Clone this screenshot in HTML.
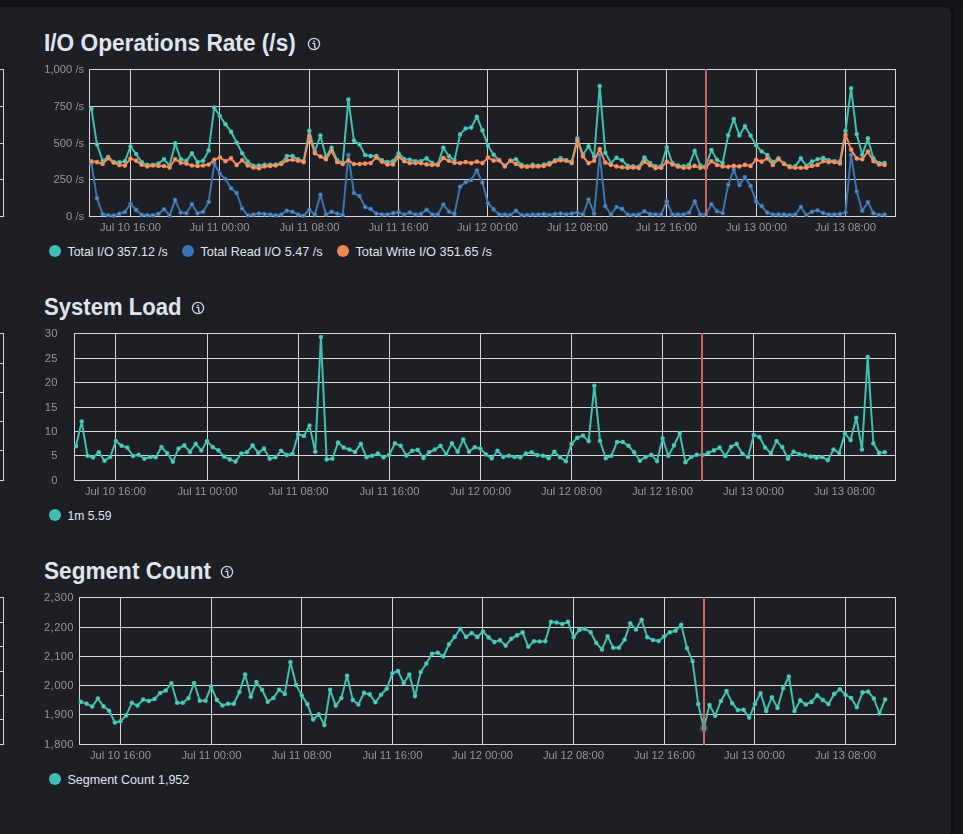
<!DOCTYPE html>
<html><head><meta charset="utf-8"><title>Metrics</title>
<style>
html,body{margin:0;padding:0;}
body{width:963px;height:834px;overflow:hidden;background:#141519;position:relative;font-family:'Liberation Sans', Arial, sans-serif;}
.panel{position:absolute;left:-20px;top:6.5px;width:971px;height:860px;background:#1e1f24;border-radius:6px;box-shadow:2px 0 3px rgba(0,0,0,0.45);}

.topstrip{position:absolute;left:0;top:0;width:963px;height:7px;background:#121317;}
svg{position:absolute;left:0;top:0;}
.gl{will-change:transform;}
.t{font-family:'Liberation Sans', Arial, sans-serif;font-weight:700;font-size:23.2px;fill:#dfe5ef;}
.yl{font-family:'Liberation Sans', Arial, sans-serif;font-size:11.2px;fill:#96979a;text-anchor:end;letter-spacing:0.4px;}
.xl{font-family:'Liberation Sans', Arial, sans-serif;font-size:11.2px;fill:#96979a;text-anchor:middle;}
.lg{font-family:'Liberation Sans', Arial, sans-serif;font-size:12.4px;fill:#dfe5ef;}
</style></head>
<body>
<div class="topstrip"></div>
<div class="panel"></div>
<svg width="963" height="834" viewBox="0 0 963 834">
<g fill="#d6d6d6"><rect x="0" y="69" width="4" height="1"/><rect x="0" y="106" width="4" height="1"/><rect x="0" y="143" width="4" height="1"/><rect x="0" y="179" width="4" height="1"/><rect x="0" y="216" width="4" height="1"/><rect x="3" y="69" width="1" height="148"/></g>
<g fill="#d6d6d6"><rect x="0" y="333" width="4" height="1"/><rect x="0" y="363" width="4" height="1"/><rect x="0" y="392" width="4" height="1"/><rect x="0" y="421" width="4" height="1"/><rect x="0" y="450" width="4" height="1"/><rect x="0" y="480" width="4" height="1"/><rect x="3" y="333" width="1" height="148"/></g>
<g fill="#d6d6d6"><rect x="0" y="597" width="4" height="1"/><rect x="0" y="622" width="4" height="1"/><rect x="0" y="646" width="4" height="1"/><rect x="0" y="671" width="4" height="1"/><rect x="0" y="695" width="4" height="1"/><rect x="0" y="719" width="4" height="1"/><rect x="0" y="744" width="4" height="1"/><rect x="3" y="597" width="1" height="148"/></g>
<text x="44" y="51" class="t" textLength="251.8" lengthAdjust="spacingAndGlyphs">I/O Operations Rate (/s)</text>
<g transform="translate(314,44)"><circle cx="0" cy="0" r="5.6" fill="none" stroke="#d3d7e0" stroke-width="1.25"/><rect x="-0.8" y="-3.4" width="1.5" height="1.3" fill="#d3d7e0"/><path d="M-1.8 -0.6 H0.7 V3.1 Q0.8 4 1.9 4" fill="none" stroke="#d3d7e0" stroke-width="1.3"/></g>
<g fill="#d6d6d6"><rect x="89" y="69" width="807" height="1"/><rect x="89" y="106" width="807" height="1"/><rect x="89" y="143" width="807" height="1"/><rect x="89" y="179" width="807" height="1"/><rect x="89" y="216" width="807" height="1"/><rect x="130" y="69" width="1" height="148"/><rect x="219" y="69" width="1" height="148"/><rect x="309" y="69" width="1" height="148"/><rect x="398" y="69" width="1" height="148"/><rect x="487" y="69" width="1" height="148"/><rect x="577" y="69" width="1" height="148"/><rect x="666" y="69" width="1" height="148"/><rect x="756" y="69" width="1" height="148"/><rect x="845" y="69" width="1" height="148"/><rect x="89" y="69" width="1" height="148"/><rect x="895" y="69" width="1" height="148"/></g>
<polyline points="91.40,108.90 96.98,144.40 102.57,160.80 108.16,157.00 113.74,162.00 119.33,162.40 124.91,161.30 130.50,146.50 136.09,154.00 141.67,162.40 147.26,164.80 152.84,164.80 158.43,163.50 164.02,159.40 169.60,165.50 175.19,143.40 180.77,159.30 186.36,160.80 191.95,153.30 197.53,162.10 203.12,160.80 208.70,150.40 214.29,107.60 219.88,116.00 225.46,124.20 231.05,131.70 236.63,142.50 242.22,153.30 247.80,161.60 253.39,165.90 258.98,165.50 264.56,164.90 270.15,164.90 275.73,164.60 281.32,163.10 286.91,156.10 292.49,156.10 298.08,159.30 303.66,161.20 309.25,130.90 314.84,151.50 320.42,135.60 326.01,157.10 331.59,147.70 337.18,160.30 342.77,162.70 348.35,99.50 353.94,140.60 359.52,144.40 365.11,155.00 370.70,156.10 376.28,156.10 381.87,160.30 387.45,162.10 393.04,161.20 398.62,153.30 404.21,159.00 409.80,159.70 415.38,161.20 420.97,161.20 426.55,158.40 432.14,163.10 437.73,164.60 443.31,147.70 448.90,156.10 454.48,160.30 460.07,134.40 465.66,128.50 471.24,127.60 476.83,116.70 482.41,130.40 488.00,145.70 493.59,154.70 499.17,160.30 504.76,165.90 510.34,160.80 515.93,159.30 521.52,164.90 527.10,166.40 532.69,164.90 538.27,165.90 543.86,164.60 549.45,163.10 555.03,160.30 560.62,158.40 566.20,160.30 571.79,161.60 577.38,138.40 582.96,154.70 588.55,146.20 594.13,156.50 599.72,86.10 605.30,152.80 610.89,163.10 616.48,157.80 622.06,160.30 627.65,165.90 633.23,166.40 638.82,166.80 644.41,157.50 649.99,163.10 655.58,166.40 661.16,166.40 666.75,147.20 672.34,163.10 677.92,165.50 683.51,166.40 689.09,164.90 694.68,150.90 700.27,165.50 705.85,166.40 711.44,150.00 717.02,159.70 722.61,163.10 728.20,135.40 733.78,119.10 739.37,135.40 744.95,126.20 750.54,135.60 756.12,145.30 761.71,151.50 767.30,155.00 772.88,162.10 778.47,158.40 784.05,163.60 789.64,166.40 795.23,166.40 800.81,158.40 806.40,165.90 811.98,161.60 817.57,159.30 823.16,158.00 828.74,160.30 834.33,161.20 839.91,161.60 845.50,130.90 851.09,88.30 856.67,134.10 862.26,154.70 867.84,138.40 873.43,158.40 879.02,163.10 884.60,163.10" fill="none" stroke="#3fc0b1" stroke-width="2" stroke-linejoin="round" stroke-linecap="round"/>
<g fill="#ffffff" fill-opacity="0.6" stroke="#3fc0b1" stroke-width="1.7"><circle cx="91.40" cy="108.90" r="1.45"/><circle cx="96.98" cy="144.40" r="1.45"/><circle cx="102.57" cy="160.80" r="1.45"/><circle cx="108.16" cy="157.00" r="1.45"/><circle cx="113.74" cy="162.00" r="1.45"/><circle cx="119.33" cy="162.40" r="1.45"/><circle cx="124.91" cy="161.30" r="1.45"/><circle cx="130.50" cy="146.50" r="1.45"/><circle cx="136.09" cy="154.00" r="1.45"/><circle cx="141.67" cy="162.40" r="1.45"/><circle cx="147.26" cy="164.80" r="1.45"/><circle cx="152.84" cy="164.80" r="1.45"/><circle cx="158.43" cy="163.50" r="1.45"/><circle cx="164.02" cy="159.40" r="1.45"/><circle cx="169.60" cy="165.50" r="1.45"/><circle cx="175.19" cy="143.40" r="1.45"/><circle cx="180.77" cy="159.30" r="1.45"/><circle cx="186.36" cy="160.80" r="1.45"/><circle cx="191.95" cy="153.30" r="1.45"/><circle cx="197.53" cy="162.10" r="1.45"/><circle cx="203.12" cy="160.80" r="1.45"/><circle cx="208.70" cy="150.40" r="1.45"/><circle cx="214.29" cy="107.60" r="1.45"/><circle cx="219.88" cy="116.00" r="1.45"/><circle cx="225.46" cy="124.20" r="1.45"/><circle cx="231.05" cy="131.70" r="1.45"/><circle cx="236.63" cy="142.50" r="1.45"/><circle cx="242.22" cy="153.30" r="1.45"/><circle cx="247.80" cy="161.60" r="1.45"/><circle cx="253.39" cy="165.90" r="1.45"/><circle cx="258.98" cy="165.50" r="1.45"/><circle cx="264.56" cy="164.90" r="1.45"/><circle cx="270.15" cy="164.90" r="1.45"/><circle cx="275.73" cy="164.60" r="1.45"/><circle cx="281.32" cy="163.10" r="1.45"/><circle cx="286.91" cy="156.10" r="1.45"/><circle cx="292.49" cy="156.10" r="1.45"/><circle cx="298.08" cy="159.30" r="1.45"/><circle cx="303.66" cy="161.20" r="1.45"/><circle cx="309.25" cy="130.90" r="1.45"/><circle cx="314.84" cy="151.50" r="1.45"/><circle cx="320.42" cy="135.60" r="1.45"/><circle cx="326.01" cy="157.10" r="1.45"/><circle cx="331.59" cy="147.70" r="1.45"/><circle cx="337.18" cy="160.30" r="1.45"/><circle cx="342.77" cy="162.70" r="1.45"/><circle cx="348.35" cy="99.50" r="1.45"/><circle cx="353.94" cy="140.60" r="1.45"/><circle cx="359.52" cy="144.40" r="1.45"/><circle cx="365.11" cy="155.00" r="1.45"/><circle cx="370.70" cy="156.10" r="1.45"/><circle cx="376.28" cy="156.10" r="1.45"/><circle cx="381.87" cy="160.30" r="1.45"/><circle cx="387.45" cy="162.10" r="1.45"/><circle cx="393.04" cy="161.20" r="1.45"/><circle cx="398.62" cy="153.30" r="1.45"/><circle cx="404.21" cy="159.00" r="1.45"/><circle cx="409.80" cy="159.70" r="1.45"/><circle cx="415.38" cy="161.20" r="1.45"/><circle cx="420.97" cy="161.20" r="1.45"/><circle cx="426.55" cy="158.40" r="1.45"/><circle cx="432.14" cy="163.10" r="1.45"/><circle cx="437.73" cy="164.60" r="1.45"/><circle cx="443.31" cy="147.70" r="1.45"/><circle cx="448.90" cy="156.10" r="1.45"/><circle cx="454.48" cy="160.30" r="1.45"/><circle cx="460.07" cy="134.40" r="1.45"/><circle cx="465.66" cy="128.50" r="1.45"/><circle cx="471.24" cy="127.60" r="1.45"/><circle cx="476.83" cy="116.70" r="1.45"/><circle cx="482.41" cy="130.40" r="1.45"/><circle cx="488.00" cy="145.70" r="1.45"/><circle cx="493.59" cy="154.70" r="1.45"/><circle cx="499.17" cy="160.30" r="1.45"/><circle cx="504.76" cy="165.90" r="1.45"/><circle cx="510.34" cy="160.80" r="1.45"/><circle cx="515.93" cy="159.30" r="1.45"/><circle cx="521.52" cy="164.90" r="1.45"/><circle cx="527.10" cy="166.40" r="1.45"/><circle cx="532.69" cy="164.90" r="1.45"/><circle cx="538.27" cy="165.90" r="1.45"/><circle cx="543.86" cy="164.60" r="1.45"/><circle cx="549.45" cy="163.10" r="1.45"/><circle cx="555.03" cy="160.30" r="1.45"/><circle cx="560.62" cy="158.40" r="1.45"/><circle cx="566.20" cy="160.30" r="1.45"/><circle cx="571.79" cy="161.60" r="1.45"/><circle cx="577.38" cy="138.40" r="1.45"/><circle cx="582.96" cy="154.70" r="1.45"/><circle cx="588.55" cy="146.20" r="1.45"/><circle cx="594.13" cy="156.50" r="1.45"/><circle cx="599.72" cy="86.10" r="1.45"/><circle cx="605.30" cy="152.80" r="1.45"/><circle cx="610.89" cy="163.10" r="1.45"/><circle cx="616.48" cy="157.80" r="1.45"/><circle cx="622.06" cy="160.30" r="1.45"/><circle cx="627.65" cy="165.90" r="1.45"/><circle cx="633.23" cy="166.40" r="1.45"/><circle cx="638.82" cy="166.80" r="1.45"/><circle cx="644.41" cy="157.50" r="1.45"/><circle cx="649.99" cy="163.10" r="1.45"/><circle cx="655.58" cy="166.40" r="1.45"/><circle cx="661.16" cy="166.40" r="1.45"/><circle cx="666.75" cy="147.20" r="1.45"/><circle cx="672.34" cy="163.10" r="1.45"/><circle cx="677.92" cy="165.50" r="1.45"/><circle cx="683.51" cy="166.40" r="1.45"/><circle cx="689.09" cy="164.90" r="1.45"/><circle cx="694.68" cy="150.90" r="1.45"/><circle cx="700.27" cy="165.50" r="1.45"/><circle cx="705.85" cy="166.40" r="1.45"/><circle cx="711.44" cy="150.00" r="1.45"/><circle cx="717.02" cy="159.70" r="1.45"/><circle cx="722.61" cy="163.10" r="1.45"/><circle cx="728.20" cy="135.40" r="1.45"/><circle cx="733.78" cy="119.10" r="1.45"/><circle cx="739.37" cy="135.40" r="1.45"/><circle cx="744.95" cy="126.20" r="1.45"/><circle cx="750.54" cy="135.60" r="1.45"/><circle cx="756.12" cy="145.30" r="1.45"/><circle cx="761.71" cy="151.50" r="1.45"/><circle cx="767.30" cy="155.00" r="1.45"/><circle cx="772.88" cy="162.10" r="1.45"/><circle cx="778.47" cy="158.40" r="1.45"/><circle cx="784.05" cy="163.60" r="1.45"/><circle cx="789.64" cy="166.40" r="1.45"/><circle cx="795.23" cy="166.40" r="1.45"/><circle cx="800.81" cy="158.40" r="1.45"/><circle cx="806.40" cy="165.90" r="1.45"/><circle cx="811.98" cy="161.60" r="1.45"/><circle cx="817.57" cy="159.30" r="1.45"/><circle cx="823.16" cy="158.00" r="1.45"/><circle cx="828.74" cy="160.30" r="1.45"/><circle cx="834.33" cy="161.20" r="1.45"/><circle cx="839.91" cy="161.60" r="1.45"/><circle cx="845.50" cy="130.90" r="1.45"/><circle cx="851.09" cy="88.30" r="1.45"/><circle cx="856.67" cy="134.10" r="1.45"/><circle cx="862.26" cy="154.70" r="1.45"/><circle cx="867.84" cy="138.40" r="1.45"/><circle cx="873.43" cy="158.40" r="1.45"/><circle cx="879.02" cy="163.10" r="1.45"/><circle cx="884.60" cy="163.10" r="1.45"/></g>
<polyline points="91.40,163.50 96.98,198.20 102.57,214.00 108.16,215.30 113.74,215.60 119.33,213.70 124.91,212.00 130.50,203.80 136.09,209.90 141.67,214.80 147.26,215.30 152.84,215.30 158.43,213.70 164.02,209.20 169.60,215.40 175.19,200.10 180.77,212.60 186.36,213.20 191.95,204.20 197.53,213.20 203.12,211.70 208.70,201.90 214.29,163.60 219.88,173.70 225.46,179.00 231.05,188.30 236.63,193.00 242.22,208.50 247.80,215.40 253.39,214.50 258.98,213.60 264.56,214.10 270.15,214.50 275.73,215.40 281.32,214.50 286.91,210.70 292.49,211.70 298.08,214.50 303.66,215.80 309.25,209.80 314.84,214.50 320.42,194.80 326.01,214.50 331.59,211.70 337.18,213.60 342.77,215.00 348.35,155.00 353.94,193.00 359.52,196.10 365.11,207.00 370.70,208.90 376.28,213.60 381.87,214.50 387.45,214.50 393.04,213.20 398.62,212.20 404.21,214.50 409.80,212.60 415.38,214.50 420.97,213.90 426.55,209.80 432.14,214.50 437.73,214.50 443.31,204.60 448.90,211.70 454.48,213.90 460.07,186.70 465.66,182.30 471.24,179.90 476.83,170.50 482.41,182.70 488.00,203.30 493.59,209.40 499.17,214.50 504.76,214.50 510.34,215.00 515.93,210.70 521.52,215.00 527.10,215.00 532.69,214.50 538.27,214.50 543.86,214.10 549.45,215.00 555.03,214.10 560.62,213.60 566.20,214.50 571.79,213.60 577.38,212.60 582.96,214.50 588.55,199.50 594.13,213.60 599.72,154.70 605.30,206.10 610.89,214.50 616.48,207.00 622.06,208.90 627.65,214.50 633.23,215.00 638.82,214.50 644.41,211.30 649.99,214.10 655.58,214.50 661.16,214.50 666.75,201.40 672.34,214.50 677.92,214.50 683.51,214.50 689.09,212.60 694.68,201.40 700.27,214.50 705.85,214.50 711.44,204.20 717.02,211.30 722.61,213.00 728.20,184.60 733.78,169.60 739.37,185.10 744.95,177.10 750.54,185.90 756.12,201.40 761.71,206.10 767.30,212.60 772.88,214.50 778.47,214.50 784.05,214.50 789.64,215.00 795.23,214.50 800.81,207.00 806.40,215.00 811.98,211.70 817.57,210.20 823.16,213.00 828.74,214.50 834.33,214.50 839.91,214.10 845.50,212.60 851.09,154.70 856.67,191.50 862.26,210.70 867.84,202.30 873.43,213.20 879.02,215.00 884.60,214.50" fill="none" stroke="#3b76b0" stroke-width="2" stroke-linejoin="round" stroke-linecap="round"/>
<g fill="#ffffff" fill-opacity="0.6" stroke="#3b76b0" stroke-width="1.7"><circle cx="91.40" cy="163.50" r="1.45"/><circle cx="96.98" cy="198.20" r="1.45"/><circle cx="102.57" cy="214.00" r="1.45"/><circle cx="108.16" cy="215.30" r="1.45"/><circle cx="113.74" cy="215.60" r="1.45"/><circle cx="119.33" cy="213.70" r="1.45"/><circle cx="124.91" cy="212.00" r="1.45"/><circle cx="130.50" cy="203.80" r="1.45"/><circle cx="136.09" cy="209.90" r="1.45"/><circle cx="141.67" cy="214.80" r="1.45"/><circle cx="147.26" cy="215.30" r="1.45"/><circle cx="152.84" cy="215.30" r="1.45"/><circle cx="158.43" cy="213.70" r="1.45"/><circle cx="164.02" cy="209.20" r="1.45"/><circle cx="169.60" cy="215.40" r="1.45"/><circle cx="175.19" cy="200.10" r="1.45"/><circle cx="180.77" cy="212.60" r="1.45"/><circle cx="186.36" cy="213.20" r="1.45"/><circle cx="191.95" cy="204.20" r="1.45"/><circle cx="197.53" cy="213.20" r="1.45"/><circle cx="203.12" cy="211.70" r="1.45"/><circle cx="208.70" cy="201.90" r="1.45"/><circle cx="214.29" cy="163.60" r="1.45"/><circle cx="219.88" cy="173.70" r="1.45"/><circle cx="225.46" cy="179.00" r="1.45"/><circle cx="231.05" cy="188.30" r="1.45"/><circle cx="236.63" cy="193.00" r="1.45"/><circle cx="242.22" cy="208.50" r="1.45"/><circle cx="247.80" cy="215.40" r="1.45"/><circle cx="253.39" cy="214.50" r="1.45"/><circle cx="258.98" cy="213.60" r="1.45"/><circle cx="264.56" cy="214.10" r="1.45"/><circle cx="270.15" cy="214.50" r="1.45"/><circle cx="275.73" cy="215.40" r="1.45"/><circle cx="281.32" cy="214.50" r="1.45"/><circle cx="286.91" cy="210.70" r="1.45"/><circle cx="292.49" cy="211.70" r="1.45"/><circle cx="298.08" cy="214.50" r="1.45"/><circle cx="303.66" cy="215.80" r="1.45"/><circle cx="309.25" cy="209.80" r="1.45"/><circle cx="314.84" cy="214.50" r="1.45"/><circle cx="320.42" cy="194.80" r="1.45"/><circle cx="326.01" cy="214.50" r="1.45"/><circle cx="331.59" cy="211.70" r="1.45"/><circle cx="337.18" cy="213.60" r="1.45"/><circle cx="342.77" cy="215.00" r="1.45"/><circle cx="348.35" cy="155.00" r="1.45"/><circle cx="353.94" cy="193.00" r="1.45"/><circle cx="359.52" cy="196.10" r="1.45"/><circle cx="365.11" cy="207.00" r="1.45"/><circle cx="370.70" cy="208.90" r="1.45"/><circle cx="376.28" cy="213.60" r="1.45"/><circle cx="381.87" cy="214.50" r="1.45"/><circle cx="387.45" cy="214.50" r="1.45"/><circle cx="393.04" cy="213.20" r="1.45"/><circle cx="398.62" cy="212.20" r="1.45"/><circle cx="404.21" cy="214.50" r="1.45"/><circle cx="409.80" cy="212.60" r="1.45"/><circle cx="415.38" cy="214.50" r="1.45"/><circle cx="420.97" cy="213.90" r="1.45"/><circle cx="426.55" cy="209.80" r="1.45"/><circle cx="432.14" cy="214.50" r="1.45"/><circle cx="437.73" cy="214.50" r="1.45"/><circle cx="443.31" cy="204.60" r="1.45"/><circle cx="448.90" cy="211.70" r="1.45"/><circle cx="454.48" cy="213.90" r="1.45"/><circle cx="460.07" cy="186.70" r="1.45"/><circle cx="465.66" cy="182.30" r="1.45"/><circle cx="471.24" cy="179.90" r="1.45"/><circle cx="476.83" cy="170.50" r="1.45"/><circle cx="482.41" cy="182.70" r="1.45"/><circle cx="488.00" cy="203.30" r="1.45"/><circle cx="493.59" cy="209.40" r="1.45"/><circle cx="499.17" cy="214.50" r="1.45"/><circle cx="504.76" cy="214.50" r="1.45"/><circle cx="510.34" cy="215.00" r="1.45"/><circle cx="515.93" cy="210.70" r="1.45"/><circle cx="521.52" cy="215.00" r="1.45"/><circle cx="527.10" cy="215.00" r="1.45"/><circle cx="532.69" cy="214.50" r="1.45"/><circle cx="538.27" cy="214.50" r="1.45"/><circle cx="543.86" cy="214.10" r="1.45"/><circle cx="549.45" cy="215.00" r="1.45"/><circle cx="555.03" cy="214.10" r="1.45"/><circle cx="560.62" cy="213.60" r="1.45"/><circle cx="566.20" cy="214.50" r="1.45"/><circle cx="571.79" cy="213.60" r="1.45"/><circle cx="577.38" cy="212.60" r="1.45"/><circle cx="582.96" cy="214.50" r="1.45"/><circle cx="588.55" cy="199.50" r="1.45"/><circle cx="594.13" cy="213.60" r="1.45"/><circle cx="599.72" cy="154.70" r="1.45"/><circle cx="605.30" cy="206.10" r="1.45"/><circle cx="610.89" cy="214.50" r="1.45"/><circle cx="616.48" cy="207.00" r="1.45"/><circle cx="622.06" cy="208.90" r="1.45"/><circle cx="627.65" cy="214.50" r="1.45"/><circle cx="633.23" cy="215.00" r="1.45"/><circle cx="638.82" cy="214.50" r="1.45"/><circle cx="644.41" cy="211.30" r="1.45"/><circle cx="649.99" cy="214.10" r="1.45"/><circle cx="655.58" cy="214.50" r="1.45"/><circle cx="661.16" cy="214.50" r="1.45"/><circle cx="666.75" cy="201.40" r="1.45"/><circle cx="672.34" cy="214.50" r="1.45"/><circle cx="677.92" cy="214.50" r="1.45"/><circle cx="683.51" cy="214.50" r="1.45"/><circle cx="689.09" cy="212.60" r="1.45"/><circle cx="694.68" cy="201.40" r="1.45"/><circle cx="700.27" cy="214.50" r="1.45"/><circle cx="705.85" cy="214.50" r="1.45"/><circle cx="711.44" cy="204.20" r="1.45"/><circle cx="717.02" cy="211.30" r="1.45"/><circle cx="722.61" cy="213.00" r="1.45"/><circle cx="728.20" cy="184.60" r="1.45"/><circle cx="733.78" cy="169.60" r="1.45"/><circle cx="739.37" cy="185.10" r="1.45"/><circle cx="744.95" cy="177.10" r="1.45"/><circle cx="750.54" cy="185.90" r="1.45"/><circle cx="756.12" cy="201.40" r="1.45"/><circle cx="761.71" cy="206.10" r="1.45"/><circle cx="767.30" cy="212.60" r="1.45"/><circle cx="772.88" cy="214.50" r="1.45"/><circle cx="778.47" cy="214.50" r="1.45"/><circle cx="784.05" cy="214.50" r="1.45"/><circle cx="789.64" cy="215.00" r="1.45"/><circle cx="795.23" cy="214.50" r="1.45"/><circle cx="800.81" cy="207.00" r="1.45"/><circle cx="806.40" cy="215.00" r="1.45"/><circle cx="811.98" cy="211.70" r="1.45"/><circle cx="817.57" cy="210.20" r="1.45"/><circle cx="823.16" cy="213.00" r="1.45"/><circle cx="828.74" cy="214.50" r="1.45"/><circle cx="834.33" cy="214.50" r="1.45"/><circle cx="839.91" cy="214.10" r="1.45"/><circle cx="845.50" cy="212.60" r="1.45"/><circle cx="851.09" cy="154.70" r="1.45"/><circle cx="856.67" cy="191.50" r="1.45"/><circle cx="862.26" cy="210.70" r="1.45"/><circle cx="867.84" cy="202.30" r="1.45"/><circle cx="873.43" cy="213.20" r="1.45"/><circle cx="879.02" cy="215.00" r="1.45"/><circle cx="884.60" cy="214.50" r="1.45"/></g>
<polyline points="91.40,161.30 96.98,162.10 102.57,164.00 108.16,158.30 113.74,162.60 119.33,165.10 124.91,165.60 130.50,158.60 136.09,160.60 141.67,164.80 147.26,166.40 152.84,165.40 158.43,166.00 164.02,166.00 169.60,167.40 175.19,159.30 180.77,162.70 186.36,163.60 191.95,165.50 197.53,165.90 203.12,165.50 208.70,164.60 214.29,159.70 219.88,157.50 225.46,161.20 231.05,158.40 236.63,164.90 242.22,160.30 247.80,165.50 253.39,167.40 258.98,168.30 264.56,166.40 270.15,165.90 275.73,165.50 281.32,164.00 286.91,160.30 292.49,159.70 298.08,160.80 303.66,162.10 309.25,136.00 314.84,153.30 320.42,156.50 326.01,159.30 331.59,150.90 337.18,162.10 342.77,164.00 348.35,160.30 353.94,164.00 359.52,164.00 365.11,163.60 370.70,163.10 376.28,157.50 381.87,161.60 387.45,164.40 393.04,164.40 398.62,156.90 404.21,161.20 409.80,163.10 415.38,163.10 420.97,163.10 426.55,164.40 432.14,164.90 437.73,164.90 443.31,158.00 448.90,160.80 454.48,162.70 460.07,163.10 465.66,162.10 471.24,163.10 476.83,161.60 482.41,163.10 488.00,157.50 493.59,160.60 499.17,160.30 504.76,166.40 510.34,160.80 515.93,164.00 521.52,166.40 527.10,166.80 532.69,166.40 538.27,166.40 543.86,165.90 549.45,164.60 555.03,161.20 560.62,160.30 566.20,160.80 571.79,163.10 577.38,140.60 582.96,156.50 588.55,163.10 594.13,160.80 599.72,149.00 605.30,162.60 610.89,164.90 616.48,166.40 622.06,167.20 627.65,167.70 633.23,167.40 638.82,168.10 644.41,161.60 649.99,165.30 655.58,168.10 661.16,167.70 666.75,161.60 672.34,164.40 677.92,166.80 683.51,167.70 689.09,167.40 694.68,165.90 700.27,167.70 705.85,167.70 711.44,161.20 717.02,164.90 722.61,166.40 728.20,166.80 733.78,165.90 739.37,166.40 744.95,164.90 750.54,165.90 756.12,159.80 761.71,161.60 767.30,158.40 772.88,164.90 778.47,159.30 784.05,164.00 789.64,167.20 795.23,167.70 800.81,167.70 806.40,167.70 811.98,165.90 817.57,164.90 823.16,161.20 828.74,162.10 834.33,162.10 839.91,163.60 845.50,134.70 851.09,149.60 856.67,158.40 862.26,159.30 867.84,151.50 873.43,161.20 879.02,164.40 884.60,164.90" fill="none" stroke="#ef8a58" stroke-width="2" stroke-linejoin="round" stroke-linecap="round"/>
<g fill="#ffffff" fill-opacity="0.6" stroke="#ef8a58" stroke-width="1.7"><circle cx="91.40" cy="161.30" r="1.45"/><circle cx="96.98" cy="162.10" r="1.45"/><circle cx="102.57" cy="164.00" r="1.45"/><circle cx="108.16" cy="158.30" r="1.45"/><circle cx="113.74" cy="162.60" r="1.45"/><circle cx="119.33" cy="165.10" r="1.45"/><circle cx="124.91" cy="165.60" r="1.45"/><circle cx="130.50" cy="158.60" r="1.45"/><circle cx="136.09" cy="160.60" r="1.45"/><circle cx="141.67" cy="164.80" r="1.45"/><circle cx="147.26" cy="166.40" r="1.45"/><circle cx="152.84" cy="165.40" r="1.45"/><circle cx="158.43" cy="166.00" r="1.45"/><circle cx="164.02" cy="166.00" r="1.45"/><circle cx="169.60" cy="167.40" r="1.45"/><circle cx="175.19" cy="159.30" r="1.45"/><circle cx="180.77" cy="162.70" r="1.45"/><circle cx="186.36" cy="163.60" r="1.45"/><circle cx="191.95" cy="165.50" r="1.45"/><circle cx="197.53" cy="165.90" r="1.45"/><circle cx="203.12" cy="165.50" r="1.45"/><circle cx="208.70" cy="164.60" r="1.45"/><circle cx="214.29" cy="159.70" r="1.45"/><circle cx="219.88" cy="157.50" r="1.45"/><circle cx="225.46" cy="161.20" r="1.45"/><circle cx="231.05" cy="158.40" r="1.45"/><circle cx="236.63" cy="164.90" r="1.45"/><circle cx="242.22" cy="160.30" r="1.45"/><circle cx="247.80" cy="165.50" r="1.45"/><circle cx="253.39" cy="167.40" r="1.45"/><circle cx="258.98" cy="168.30" r="1.45"/><circle cx="264.56" cy="166.40" r="1.45"/><circle cx="270.15" cy="165.90" r="1.45"/><circle cx="275.73" cy="165.50" r="1.45"/><circle cx="281.32" cy="164.00" r="1.45"/><circle cx="286.91" cy="160.30" r="1.45"/><circle cx="292.49" cy="159.70" r="1.45"/><circle cx="298.08" cy="160.80" r="1.45"/><circle cx="303.66" cy="162.10" r="1.45"/><circle cx="309.25" cy="136.00" r="1.45"/><circle cx="314.84" cy="153.30" r="1.45"/><circle cx="320.42" cy="156.50" r="1.45"/><circle cx="326.01" cy="159.30" r="1.45"/><circle cx="331.59" cy="150.90" r="1.45"/><circle cx="337.18" cy="162.10" r="1.45"/><circle cx="342.77" cy="164.00" r="1.45"/><circle cx="348.35" cy="160.30" r="1.45"/><circle cx="353.94" cy="164.00" r="1.45"/><circle cx="359.52" cy="164.00" r="1.45"/><circle cx="365.11" cy="163.60" r="1.45"/><circle cx="370.70" cy="163.10" r="1.45"/><circle cx="376.28" cy="157.50" r="1.45"/><circle cx="381.87" cy="161.60" r="1.45"/><circle cx="387.45" cy="164.40" r="1.45"/><circle cx="393.04" cy="164.40" r="1.45"/><circle cx="398.62" cy="156.90" r="1.45"/><circle cx="404.21" cy="161.20" r="1.45"/><circle cx="409.80" cy="163.10" r="1.45"/><circle cx="415.38" cy="163.10" r="1.45"/><circle cx="420.97" cy="163.10" r="1.45"/><circle cx="426.55" cy="164.40" r="1.45"/><circle cx="432.14" cy="164.90" r="1.45"/><circle cx="437.73" cy="164.90" r="1.45"/><circle cx="443.31" cy="158.00" r="1.45"/><circle cx="448.90" cy="160.80" r="1.45"/><circle cx="454.48" cy="162.70" r="1.45"/><circle cx="460.07" cy="163.10" r="1.45"/><circle cx="465.66" cy="162.10" r="1.45"/><circle cx="471.24" cy="163.10" r="1.45"/><circle cx="476.83" cy="161.60" r="1.45"/><circle cx="482.41" cy="163.10" r="1.45"/><circle cx="488.00" cy="157.50" r="1.45"/><circle cx="493.59" cy="160.60" r="1.45"/><circle cx="499.17" cy="160.30" r="1.45"/><circle cx="504.76" cy="166.40" r="1.45"/><circle cx="510.34" cy="160.80" r="1.45"/><circle cx="515.93" cy="164.00" r="1.45"/><circle cx="521.52" cy="166.40" r="1.45"/><circle cx="527.10" cy="166.80" r="1.45"/><circle cx="532.69" cy="166.40" r="1.45"/><circle cx="538.27" cy="166.40" r="1.45"/><circle cx="543.86" cy="165.90" r="1.45"/><circle cx="549.45" cy="164.60" r="1.45"/><circle cx="555.03" cy="161.20" r="1.45"/><circle cx="560.62" cy="160.30" r="1.45"/><circle cx="566.20" cy="160.80" r="1.45"/><circle cx="571.79" cy="163.10" r="1.45"/><circle cx="577.38" cy="140.60" r="1.45"/><circle cx="582.96" cy="156.50" r="1.45"/><circle cx="588.55" cy="163.10" r="1.45"/><circle cx="594.13" cy="160.80" r="1.45"/><circle cx="599.72" cy="149.00" r="1.45"/><circle cx="605.30" cy="162.60" r="1.45"/><circle cx="610.89" cy="164.90" r="1.45"/><circle cx="616.48" cy="166.40" r="1.45"/><circle cx="622.06" cy="167.20" r="1.45"/><circle cx="627.65" cy="167.70" r="1.45"/><circle cx="633.23" cy="167.40" r="1.45"/><circle cx="638.82" cy="168.10" r="1.45"/><circle cx="644.41" cy="161.60" r="1.45"/><circle cx="649.99" cy="165.30" r="1.45"/><circle cx="655.58" cy="168.10" r="1.45"/><circle cx="661.16" cy="167.70" r="1.45"/><circle cx="666.75" cy="161.60" r="1.45"/><circle cx="672.34" cy="164.40" r="1.45"/><circle cx="677.92" cy="166.80" r="1.45"/><circle cx="683.51" cy="167.70" r="1.45"/><circle cx="689.09" cy="167.40" r="1.45"/><circle cx="694.68" cy="165.90" r="1.45"/><circle cx="700.27" cy="167.70" r="1.45"/><circle cx="705.85" cy="167.70" r="1.45"/><circle cx="711.44" cy="161.20" r="1.45"/><circle cx="717.02" cy="164.90" r="1.45"/><circle cx="722.61" cy="166.40" r="1.45"/><circle cx="728.20" cy="166.80" r="1.45"/><circle cx="733.78" cy="165.90" r="1.45"/><circle cx="739.37" cy="166.40" r="1.45"/><circle cx="744.95" cy="164.90" r="1.45"/><circle cx="750.54" cy="165.90" r="1.45"/><circle cx="756.12" cy="159.80" r="1.45"/><circle cx="761.71" cy="161.60" r="1.45"/><circle cx="767.30" cy="158.40" r="1.45"/><circle cx="772.88" cy="164.90" r="1.45"/><circle cx="778.47" cy="159.30" r="1.45"/><circle cx="784.05" cy="164.00" r="1.45"/><circle cx="789.64" cy="167.20" r="1.45"/><circle cx="795.23" cy="167.70" r="1.45"/><circle cx="800.81" cy="167.70" r="1.45"/><circle cx="806.40" cy="167.70" r="1.45"/><circle cx="811.98" cy="165.90" r="1.45"/><circle cx="817.57" cy="164.90" r="1.45"/><circle cx="823.16" cy="161.20" r="1.45"/><circle cx="828.74" cy="162.10" r="1.45"/><circle cx="834.33" cy="162.10" r="1.45"/><circle cx="839.91" cy="163.60" r="1.45"/><circle cx="845.50" cy="134.70" r="1.45"/><circle cx="851.09" cy="149.60" r="1.45"/><circle cx="856.67" cy="158.40" r="1.45"/><circle cx="862.26" cy="159.30" r="1.45"/><circle cx="867.84" cy="151.50" r="1.45"/><circle cx="873.43" cy="161.20" r="1.45"/><circle cx="879.02" cy="164.40" r="1.45"/><circle cx="884.60" cy="164.90" r="1.45"/></g>
<rect x="705" y="69" width="2" height="148" fill="#cb6464"/>
<circle cx="55" cy="251" r="6" fill="#3fc0b1"/>
<text x="67.5" y="255.6" class="lg" textLength="100.3" lengthAdjust="spacingAndGlyphs">Total I/O 357.12 /s</text>
<circle cx="188" cy="251" r="6" fill="#3b76b0"/>
<text x="200.5" y="255.6" class="lg" textLength="122" lengthAdjust="spacingAndGlyphs">Total Read I/O 5.47 /s</text>
<circle cx="343" cy="251" r="6" fill="#ef8a58"/>
<text x="355.5" y="255.6" class="lg" textLength="136.5" lengthAdjust="spacingAndGlyphs">Total Write I/O 351.65 /s</text>
<text x="44" y="315" class="t" textLength="137.5" lengthAdjust="spacingAndGlyphs">System Load</text>
<g transform="translate(198,308)"><circle cx="0" cy="0" r="5.6" fill="none" stroke="#d3d7e0" stroke-width="1.25"/><rect x="-0.8" y="-3.4" width="1.5" height="1.3" fill="#d3d7e0"/><path d="M-1.8 -0.6 H0.7 V3.1 Q0.8 4 1.9 4" fill="none" stroke="#d3d7e0" stroke-width="1.3"/></g>
<g fill="#d6d6d6"><rect x="74" y="333" width="822" height="1"/><rect x="74" y="358" width="822" height="1"/><rect x="74" y="382" width="822" height="1"/><rect x="74" y="407" width="822" height="1"/><rect x="74" y="431" width="822" height="1"/><rect x="74" y="455" width="822" height="1"/><rect x="74" y="480" width="822" height="1"/><rect x="115" y="333" width="1" height="148"/><rect x="207" y="333" width="1" height="148"/><rect x="298" y="333" width="1" height="148"/><rect x="389" y="333" width="1" height="148"/><rect x="480" y="333" width="1" height="148"/><rect x="571" y="333" width="1" height="148"/><rect x="662" y="333" width="1" height="148"/><rect x="753" y="333" width="1" height="148"/><rect x="844" y="333" width="1" height="148"/><rect x="74" y="333" width="1" height="148"/><rect x="895" y="333" width="1" height="148"/></g>
<polyline points="76.03,446.10 81.73,421.50 87.42,455.70 93.12,457.50 98.81,452.30 104.51,460.70 110.20,457.00 115.90,441.10 121.60,445.80 127.29,447.60 132.99,456.00 138.68,454.70 144.38,458.80 150.07,457.00 155.77,457.30 161.46,447.10 167.16,453.20 172.85,461.60 178.55,448.60 184.24,445.40 189.94,451.90 195.63,443.90 201.33,450.40 207.03,441.10 212.72,447.10 218.42,450.40 224.11,456.60 229.81,459.40 235.50,461.60 241.20,453.60 246.89,452.30 252.59,445.40 258.28,452.90 263.98,448.60 269.67,458.80 275.37,457.30 281.06,450.80 286.76,455.10 292.45,453.80 298.15,434.20 303.85,436.00 309.54,425.60 315.24,451.70 320.93,337.00 326.63,459.40 332.32,458.80 338.02,442.60 343.71,447.60 349.41,449.50 355.10,451.90 360.80,443.90 366.49,457.30 372.19,455.70 377.88,453.60 383.58,457.30 389.27,454.70 394.97,443.30 400.67,445.80 406.36,455.50 412.06,450.80 417.75,449.90 423.45,457.90 429.14,452.30 434.84,449.50 440.53,445.80 446.23,454.20 451.92,443.30 457.62,451.70 463.31,439.60 469.01,451.70 474.70,447.30 480.40,448.60 486.10,454.50 491.79,458.30 497.49,450.80 503.18,457.00 508.88,455.70 514.57,457.00 520.27,457.50 525.96,453.60 531.66,452.30 537.35,455.10 543.05,455.70 548.74,458.30 554.44,451.70 560.13,457.30 565.83,461.30 571.52,443.90 577.22,437.90 582.92,435.50 588.61,441.10 594.31,385.80 600.00,440.70 605.70,458.30 611.39,455.70 617.09,442.00 622.78,442.00 628.48,445.80 634.17,452.30 639.87,460.70 645.56,457.00 651.26,454.70 656.95,461.10 662.65,438.30 668.35,455.70 674.04,445.40 679.74,433.20 685.43,462.20 691.13,457.00 696.82,454.70 702.52,455.10 708.21,452.90 713.91,450.40 719.60,447.60 725.30,456.00 730.99,446.70 736.69,443.90 742.38,453.80 748.08,457.00 753.77,435.10 759.47,437.00 765.17,447.60 770.86,453.20 776.56,441.10 782.25,447.10 787.95,458.80 793.64,451.70 799.34,454.20 805.03,455.10 810.73,456.60 816.42,457.70 822.12,457.00 827.81,460.10 833.51,449.50 839.20,452.90 844.90,433.60 850.60,440.10 856.29,417.70 861.99,449.50 867.68,357.00 873.38,443.50 879.07,452.90 884.77,452.30" fill="none" stroke="#3fc0b1" stroke-width="2" stroke-linejoin="round" stroke-linecap="round"/>
<g fill="#ffffff" fill-opacity="0.6" stroke="#3fc0b1" stroke-width="1.7"><circle cx="76.03" cy="446.10" r="1.45"/><circle cx="81.73" cy="421.50" r="1.45"/><circle cx="87.42" cy="455.70" r="1.45"/><circle cx="93.12" cy="457.50" r="1.45"/><circle cx="98.81" cy="452.30" r="1.45"/><circle cx="104.51" cy="460.70" r="1.45"/><circle cx="110.20" cy="457.00" r="1.45"/><circle cx="115.90" cy="441.10" r="1.45"/><circle cx="121.60" cy="445.80" r="1.45"/><circle cx="127.29" cy="447.60" r="1.45"/><circle cx="132.99" cy="456.00" r="1.45"/><circle cx="138.68" cy="454.70" r="1.45"/><circle cx="144.38" cy="458.80" r="1.45"/><circle cx="150.07" cy="457.00" r="1.45"/><circle cx="155.77" cy="457.30" r="1.45"/><circle cx="161.46" cy="447.10" r="1.45"/><circle cx="167.16" cy="453.20" r="1.45"/><circle cx="172.85" cy="461.60" r="1.45"/><circle cx="178.55" cy="448.60" r="1.45"/><circle cx="184.24" cy="445.40" r="1.45"/><circle cx="189.94" cy="451.90" r="1.45"/><circle cx="195.63" cy="443.90" r="1.45"/><circle cx="201.33" cy="450.40" r="1.45"/><circle cx="207.03" cy="441.10" r="1.45"/><circle cx="212.72" cy="447.10" r="1.45"/><circle cx="218.42" cy="450.40" r="1.45"/><circle cx="224.11" cy="456.60" r="1.45"/><circle cx="229.81" cy="459.40" r="1.45"/><circle cx="235.50" cy="461.60" r="1.45"/><circle cx="241.20" cy="453.60" r="1.45"/><circle cx="246.89" cy="452.30" r="1.45"/><circle cx="252.59" cy="445.40" r="1.45"/><circle cx="258.28" cy="452.90" r="1.45"/><circle cx="263.98" cy="448.60" r="1.45"/><circle cx="269.67" cy="458.80" r="1.45"/><circle cx="275.37" cy="457.30" r="1.45"/><circle cx="281.06" cy="450.80" r="1.45"/><circle cx="286.76" cy="455.10" r="1.45"/><circle cx="292.45" cy="453.80" r="1.45"/><circle cx="298.15" cy="434.20" r="1.45"/><circle cx="303.85" cy="436.00" r="1.45"/><circle cx="309.54" cy="425.60" r="1.45"/><circle cx="315.24" cy="451.70" r="1.45"/><circle cx="320.93" cy="337.00" r="1.45"/><circle cx="326.63" cy="459.40" r="1.45"/><circle cx="332.32" cy="458.80" r="1.45"/><circle cx="338.02" cy="442.60" r="1.45"/><circle cx="343.71" cy="447.60" r="1.45"/><circle cx="349.41" cy="449.50" r="1.45"/><circle cx="355.10" cy="451.90" r="1.45"/><circle cx="360.80" cy="443.90" r="1.45"/><circle cx="366.49" cy="457.30" r="1.45"/><circle cx="372.19" cy="455.70" r="1.45"/><circle cx="377.88" cy="453.60" r="1.45"/><circle cx="383.58" cy="457.30" r="1.45"/><circle cx="389.27" cy="454.70" r="1.45"/><circle cx="394.97" cy="443.30" r="1.45"/><circle cx="400.67" cy="445.80" r="1.45"/><circle cx="406.36" cy="455.50" r="1.45"/><circle cx="412.06" cy="450.80" r="1.45"/><circle cx="417.75" cy="449.90" r="1.45"/><circle cx="423.45" cy="457.90" r="1.45"/><circle cx="429.14" cy="452.30" r="1.45"/><circle cx="434.84" cy="449.50" r="1.45"/><circle cx="440.53" cy="445.80" r="1.45"/><circle cx="446.23" cy="454.20" r="1.45"/><circle cx="451.92" cy="443.30" r="1.45"/><circle cx="457.62" cy="451.70" r="1.45"/><circle cx="463.31" cy="439.60" r="1.45"/><circle cx="469.01" cy="451.70" r="1.45"/><circle cx="474.70" cy="447.30" r="1.45"/><circle cx="480.40" cy="448.60" r="1.45"/><circle cx="486.10" cy="454.50" r="1.45"/><circle cx="491.79" cy="458.30" r="1.45"/><circle cx="497.49" cy="450.80" r="1.45"/><circle cx="503.18" cy="457.00" r="1.45"/><circle cx="508.88" cy="455.70" r="1.45"/><circle cx="514.57" cy="457.00" r="1.45"/><circle cx="520.27" cy="457.50" r="1.45"/><circle cx="525.96" cy="453.60" r="1.45"/><circle cx="531.66" cy="452.30" r="1.45"/><circle cx="537.35" cy="455.10" r="1.45"/><circle cx="543.05" cy="455.70" r="1.45"/><circle cx="548.74" cy="458.30" r="1.45"/><circle cx="554.44" cy="451.70" r="1.45"/><circle cx="560.13" cy="457.30" r="1.45"/><circle cx="565.83" cy="461.30" r="1.45"/><circle cx="571.52" cy="443.90" r="1.45"/><circle cx="577.22" cy="437.90" r="1.45"/><circle cx="582.92" cy="435.50" r="1.45"/><circle cx="588.61" cy="441.10" r="1.45"/><circle cx="594.31" cy="385.80" r="1.45"/><circle cx="600.00" cy="440.70" r="1.45"/><circle cx="605.70" cy="458.30" r="1.45"/><circle cx="611.39" cy="455.70" r="1.45"/><circle cx="617.09" cy="442.00" r="1.45"/><circle cx="622.78" cy="442.00" r="1.45"/><circle cx="628.48" cy="445.80" r="1.45"/><circle cx="634.17" cy="452.30" r="1.45"/><circle cx="639.87" cy="460.70" r="1.45"/><circle cx="645.56" cy="457.00" r="1.45"/><circle cx="651.26" cy="454.70" r="1.45"/><circle cx="656.95" cy="461.10" r="1.45"/><circle cx="662.65" cy="438.30" r="1.45"/><circle cx="668.35" cy="455.70" r="1.45"/><circle cx="674.04" cy="445.40" r="1.45"/><circle cx="679.74" cy="433.20" r="1.45"/><circle cx="685.43" cy="462.20" r="1.45"/><circle cx="691.13" cy="457.00" r="1.45"/><circle cx="696.82" cy="454.70" r="1.45"/><circle cx="702.52" cy="455.10" r="1.45"/><circle cx="708.21" cy="452.90" r="1.45"/><circle cx="713.91" cy="450.40" r="1.45"/><circle cx="719.60" cy="447.60" r="1.45"/><circle cx="725.30" cy="456.00" r="1.45"/><circle cx="730.99" cy="446.70" r="1.45"/><circle cx="736.69" cy="443.90" r="1.45"/><circle cx="742.38" cy="453.80" r="1.45"/><circle cx="748.08" cy="457.00" r="1.45"/><circle cx="753.77" cy="435.10" r="1.45"/><circle cx="759.47" cy="437.00" r="1.45"/><circle cx="765.17" cy="447.60" r="1.45"/><circle cx="770.86" cy="453.20" r="1.45"/><circle cx="776.56" cy="441.10" r="1.45"/><circle cx="782.25" cy="447.10" r="1.45"/><circle cx="787.95" cy="458.80" r="1.45"/><circle cx="793.64" cy="451.70" r="1.45"/><circle cx="799.34" cy="454.20" r="1.45"/><circle cx="805.03" cy="455.10" r="1.45"/><circle cx="810.73" cy="456.60" r="1.45"/><circle cx="816.42" cy="457.70" r="1.45"/><circle cx="822.12" cy="457.00" r="1.45"/><circle cx="827.81" cy="460.10" r="1.45"/><circle cx="833.51" cy="449.50" r="1.45"/><circle cx="839.20" cy="452.90" r="1.45"/><circle cx="844.90" cy="433.60" r="1.45"/><circle cx="850.60" cy="440.10" r="1.45"/><circle cx="856.29" cy="417.70" r="1.45"/><circle cx="861.99" cy="449.50" r="1.45"/><circle cx="867.68" cy="357.00" r="1.45"/><circle cx="873.38" cy="443.50" r="1.45"/><circle cx="879.07" cy="452.90" r="1.45"/><circle cx="884.77" cy="452.30" r="1.45"/></g>
<rect x="701" y="333" width="2" height="148" fill="#cb6464"/>
<circle cx="55" cy="515" r="6" fill="#3fc0b1"/>
<text x="67.5" y="519.6" class="lg" textLength="44" lengthAdjust="spacingAndGlyphs">1m 5.59</text>
<text x="44" y="579" class="t" textLength="167" lengthAdjust="spacingAndGlyphs">Segment Count</text>
<g transform="translate(227,572)"><circle cx="0" cy="0" r="5.6" fill="none" stroke="#d3d7e0" stroke-width="1.25"/><rect x="-0.8" y="-3.4" width="1.5" height="1.3" fill="#d3d7e0"/><path d="M-1.8 -0.6 H0.7 V3.1 Q0.8 4 1.9 4" fill="none" stroke="#d3d7e0" stroke-width="1.3"/></g>
<g fill="#d6d6d6"><rect x="79" y="597" width="817" height="1"/><rect x="79" y="627" width="817" height="1"/><rect x="79" y="656" width="817" height="1"/><rect x="79" y="685" width="817" height="1"/><rect x="79" y="714" width="817" height="1"/><rect x="79" y="744" width="817" height="1"/><rect x="120" y="597" width="1" height="148"/><rect x="211" y="597" width="1" height="148"/><rect x="301" y="597" width="1" height="148"/><rect x="392" y="597" width="1" height="148"/><rect x="482" y="597" width="1" height="148"/><rect x="573" y="597" width="1" height="148"/><rect x="664" y="597" width="1" height="148"/><rect x="754" y="597" width="1" height="148"/><rect x="845" y="597" width="1" height="148"/><rect x="79" y="597" width="1" height="148"/><rect x="895" y="597" width="1" height="148"/></g>
<polyline points="80.85,701.90 86.52,703.60 92.18,706.60 97.84,698.50 103.51,706.40 109.17,710.70 114.84,722.50 120.50,721.30 126.16,715.40 131.83,702.80 137.49,705.60 143.16,699.50 148.82,701.00 154.48,699.00 160.15,693.00 165.81,690.50 171.48,683.20 177.14,702.80 182.80,702.80 188.47,698.20 194.13,683.00 199.80,700.80 205.46,700.80 211.12,686.40 216.79,699.90 222.45,705.50 228.12,703.80 233.78,703.80 239.45,692.00 245.11,674.60 250.77,696.70 256.44,682.10 262.10,689.80 267.77,701.70 273.43,698.00 279.09,689.80 284.76,693.90 290.42,662.10 296.09,684.90 301.75,695.40 307.41,704.10 313.08,719.50 318.74,714.40 324.41,725.10 330.07,689.80 335.73,705.60 341.40,698.00 347.06,675.70 352.73,699.90 358.39,704.50 364.05,692.90 369.72,694.40 375.38,702.30 381.05,694.80 386.71,688.80 392.38,673.30 398.04,671.10 403.70,683.00 409.37,674.60 415.03,696.10 420.70,672.00 426.36,663.60 432.02,653.70 437.69,652.70 443.35,656.50 449.02,644.30 454.68,636.90 460.34,628.80 466.01,636.90 471.67,633.10 477.34,636.90 483.00,631.60 488.66,637.40 494.33,642.10 499.99,640.20 505.66,645.60 511.32,638.70 516.98,635.40 522.65,632.40 528.31,646.80 533.98,641.20 539.64,641.50 545.30,641.20 550.97,621.90 556.63,622.50 562.30,624.10 567.96,621.90 573.62,637.20 579.29,629.90 584.95,628.80 590.62,632.20 596.28,643.00 601.95,649.40 607.61,636.30 613.27,647.70 618.94,647.70 624.60,639.70 630.27,623.40 635.93,629.40 641.59,619.70 647.26,637.20 652.92,640.00 658.59,641.00 664.25,636.50 669.91,632.20 675.58,630.70 681.24,624.70 686.91,648.10 692.57,661.20 698.23,704.10 703.90,728.10 709.56,705.10 715.23,715.70 720.89,701.00 726.55,691.10 732.22,703.20 737.88,710.10 743.55,709.80 749.21,717.60 754.88,704.10 760.54,693.30 766.20,711.10 771.87,697.20 777.53,707.90 783.20,688.30 788.86,676.50 794.52,711.10 800.19,700.40 805.85,704.50 811.52,701.90 817.18,695.40 822.84,700.00 828.51,704.10 834.17,693.90 839.84,689.20 845.50,694.80 851.16,698.00 856.83,707.30 862.49,692.40 868.16,691.60 873.82,698.50 879.48,713.50 885.15,699.50" fill="none" stroke="#3fc0b1" stroke-width="2" stroke-linejoin="round" stroke-linecap="round"/>
<g fill="#ffffff" fill-opacity="0.6" stroke="#3fc0b1" stroke-width="1.7"><circle cx="80.85" cy="701.90" r="1.45"/><circle cx="86.52" cy="703.60" r="1.45"/><circle cx="92.18" cy="706.60" r="1.45"/><circle cx="97.84" cy="698.50" r="1.45"/><circle cx="103.51" cy="706.40" r="1.45"/><circle cx="109.17" cy="710.70" r="1.45"/><circle cx="114.84" cy="722.50" r="1.45"/><circle cx="120.50" cy="721.30" r="1.45"/><circle cx="126.16" cy="715.40" r="1.45"/><circle cx="131.83" cy="702.80" r="1.45"/><circle cx="137.49" cy="705.60" r="1.45"/><circle cx="143.16" cy="699.50" r="1.45"/><circle cx="148.82" cy="701.00" r="1.45"/><circle cx="154.48" cy="699.00" r="1.45"/><circle cx="160.15" cy="693.00" r="1.45"/><circle cx="165.81" cy="690.50" r="1.45"/><circle cx="171.48" cy="683.20" r="1.45"/><circle cx="177.14" cy="702.80" r="1.45"/><circle cx="182.80" cy="702.80" r="1.45"/><circle cx="188.47" cy="698.20" r="1.45"/><circle cx="194.13" cy="683.00" r="1.45"/><circle cx="199.80" cy="700.80" r="1.45"/><circle cx="205.46" cy="700.80" r="1.45"/><circle cx="211.12" cy="686.40" r="1.45"/><circle cx="216.79" cy="699.90" r="1.45"/><circle cx="222.45" cy="705.50" r="1.45"/><circle cx="228.12" cy="703.80" r="1.45"/><circle cx="233.78" cy="703.80" r="1.45"/><circle cx="239.45" cy="692.00" r="1.45"/><circle cx="245.11" cy="674.60" r="1.45"/><circle cx="250.77" cy="696.70" r="1.45"/><circle cx="256.44" cy="682.10" r="1.45"/><circle cx="262.10" cy="689.80" r="1.45"/><circle cx="267.77" cy="701.70" r="1.45"/><circle cx="273.43" cy="698.00" r="1.45"/><circle cx="279.09" cy="689.80" r="1.45"/><circle cx="284.76" cy="693.90" r="1.45"/><circle cx="290.42" cy="662.10" r="1.45"/><circle cx="296.09" cy="684.90" r="1.45"/><circle cx="301.75" cy="695.40" r="1.45"/><circle cx="307.41" cy="704.10" r="1.45"/><circle cx="313.08" cy="719.50" r="1.45"/><circle cx="318.74" cy="714.40" r="1.45"/><circle cx="324.41" cy="725.10" r="1.45"/><circle cx="330.07" cy="689.80" r="1.45"/><circle cx="335.73" cy="705.60" r="1.45"/><circle cx="341.40" cy="698.00" r="1.45"/><circle cx="347.06" cy="675.70" r="1.45"/><circle cx="352.73" cy="699.90" r="1.45"/><circle cx="358.39" cy="704.50" r="1.45"/><circle cx="364.05" cy="692.90" r="1.45"/><circle cx="369.72" cy="694.40" r="1.45"/><circle cx="375.38" cy="702.30" r="1.45"/><circle cx="381.05" cy="694.80" r="1.45"/><circle cx="386.71" cy="688.80" r="1.45"/><circle cx="392.38" cy="673.30" r="1.45"/><circle cx="398.04" cy="671.10" r="1.45"/><circle cx="403.70" cy="683.00" r="1.45"/><circle cx="409.37" cy="674.60" r="1.45"/><circle cx="415.03" cy="696.10" r="1.45"/><circle cx="420.70" cy="672.00" r="1.45"/><circle cx="426.36" cy="663.60" r="1.45"/><circle cx="432.02" cy="653.70" r="1.45"/><circle cx="437.69" cy="652.70" r="1.45"/><circle cx="443.35" cy="656.50" r="1.45"/><circle cx="449.02" cy="644.30" r="1.45"/><circle cx="454.68" cy="636.90" r="1.45"/><circle cx="460.34" cy="628.80" r="1.45"/><circle cx="466.01" cy="636.90" r="1.45"/><circle cx="471.67" cy="633.10" r="1.45"/><circle cx="477.34" cy="636.90" r="1.45"/><circle cx="483.00" cy="631.60" r="1.45"/><circle cx="488.66" cy="637.40" r="1.45"/><circle cx="494.33" cy="642.10" r="1.45"/><circle cx="499.99" cy="640.20" r="1.45"/><circle cx="505.66" cy="645.60" r="1.45"/><circle cx="511.32" cy="638.70" r="1.45"/><circle cx="516.98" cy="635.40" r="1.45"/><circle cx="522.65" cy="632.40" r="1.45"/><circle cx="528.31" cy="646.80" r="1.45"/><circle cx="533.98" cy="641.20" r="1.45"/><circle cx="539.64" cy="641.50" r="1.45"/><circle cx="545.30" cy="641.20" r="1.45"/><circle cx="550.97" cy="621.90" r="1.45"/><circle cx="556.63" cy="622.50" r="1.45"/><circle cx="562.30" cy="624.10" r="1.45"/><circle cx="567.96" cy="621.90" r="1.45"/><circle cx="573.62" cy="637.20" r="1.45"/><circle cx="579.29" cy="629.90" r="1.45"/><circle cx="584.95" cy="628.80" r="1.45"/><circle cx="590.62" cy="632.20" r="1.45"/><circle cx="596.28" cy="643.00" r="1.45"/><circle cx="601.95" cy="649.40" r="1.45"/><circle cx="607.61" cy="636.30" r="1.45"/><circle cx="613.27" cy="647.70" r="1.45"/><circle cx="618.94" cy="647.70" r="1.45"/><circle cx="624.60" cy="639.70" r="1.45"/><circle cx="630.27" cy="623.40" r="1.45"/><circle cx="635.93" cy="629.40" r="1.45"/><circle cx="641.59" cy="619.70" r="1.45"/><circle cx="647.26" cy="637.20" r="1.45"/><circle cx="652.92" cy="640.00" r="1.45"/><circle cx="658.59" cy="641.00" r="1.45"/><circle cx="664.25" cy="636.50" r="1.45"/><circle cx="669.91" cy="632.20" r="1.45"/><circle cx="675.58" cy="630.70" r="1.45"/><circle cx="681.24" cy="624.70" r="1.45"/><circle cx="686.91" cy="648.10" r="1.45"/><circle cx="692.57" cy="661.20" r="1.45"/><circle cx="698.23" cy="704.10" r="1.45"/><circle cx="703.90" cy="728.10" r="1.45"/><circle cx="709.56" cy="705.10" r="1.45"/><circle cx="715.23" cy="715.70" r="1.45"/><circle cx="720.89" cy="701.00" r="1.45"/><circle cx="726.55" cy="691.10" r="1.45"/><circle cx="732.22" cy="703.20" r="1.45"/><circle cx="737.88" cy="710.10" r="1.45"/><circle cx="743.55" cy="709.80" r="1.45"/><circle cx="749.21" cy="717.60" r="1.45"/><circle cx="754.88" cy="704.10" r="1.45"/><circle cx="760.54" cy="693.30" r="1.45"/><circle cx="766.20" cy="711.10" r="1.45"/><circle cx="771.87" cy="697.20" r="1.45"/><circle cx="777.53" cy="707.90" r="1.45"/><circle cx="783.20" cy="688.30" r="1.45"/><circle cx="788.86" cy="676.50" r="1.45"/><circle cx="794.52" cy="711.10" r="1.45"/><circle cx="800.19" cy="700.40" r="1.45"/><circle cx="805.85" cy="704.50" r="1.45"/><circle cx="811.52" cy="701.90" r="1.45"/><circle cx="817.18" cy="695.40" r="1.45"/><circle cx="822.84" cy="700.00" r="1.45"/><circle cx="828.51" cy="704.10" r="1.45"/><circle cx="834.17" cy="693.90" r="1.45"/><circle cx="839.84" cy="689.20" r="1.45"/><circle cx="845.50" cy="694.80" r="1.45"/><circle cx="851.16" cy="698.00" r="1.45"/><circle cx="856.83" cy="707.30" r="1.45"/><circle cx="862.49" cy="692.40" r="1.45"/><circle cx="868.16" cy="691.60" r="1.45"/><circle cx="873.82" cy="698.50" r="1.45"/><circle cx="879.48" cy="713.50" r="1.45"/><circle cx="885.15" cy="699.50" r="1.45"/></g>
<circle cx="703.90" cy="728.3" r="4" fill="#3fc0b1" fill-opacity="0.35"/>
<rect x="703" y="597" width="2" height="148" fill="#cb6464"/>
<circle cx="55" cy="779" r="6" fill="#3fc0b1"/>
<text x="67.5" y="783.6" class="lg" textLength="121.8" lengthAdjust="spacingAndGlyphs">Segment Count 1,952</text>
</svg>
<svg class="gl" width="963" height="834" viewBox="0 0 963 834">
<text x="84.1" y="73.2" class="yl" style="letter-spacing:0px">1,000 /s</text>
<text x="84.1" y="110.2" class="yl" style="letter-spacing:0px">750 /s</text>
<text x="84.1" y="147.2" class="yl" style="letter-spacing:0px">500 /s</text>
<text x="84.1" y="183.2" class="yl" style="letter-spacing:0px">250 /s</text>
<text x="84.1" y="220.2" class="yl" style="letter-spacing:0px">0 /s</text>
<text x="130.5" y="231" class="xl">Jul 10 16:00</text>
<text x="219.5" y="231" class="xl">Jul 11 00:00</text>
<text x="309.5" y="231" class="xl">Jul 11 08:00</text>
<text x="398.5" y="231" class="xl">Jul 11 16:00</text>
<text x="487.5" y="231" class="xl">Jul 12 00:00</text>
<text x="577.5" y="231" class="xl">Jul 12 08:00</text>
<text x="666.5" y="231" class="xl">Jul 12 16:00</text>
<text x="756.5" y="231" class="xl">Jul 13 00:00</text>
<text x="845.5" y="231" class="xl">Jul 13 08:00</text>
<text x="57.9" y="337.2" class="yl" style="letter-spacing:0.4px">30</text>
<text x="57.9" y="362.2" class="yl" style="letter-spacing:0.4px">25</text>
<text x="57.9" y="386.2" class="yl" style="letter-spacing:0.4px">20</text>
<text x="57.9" y="411.2" class="yl" style="letter-spacing:0.4px">15</text>
<text x="57.9" y="435.2" class="yl" style="letter-spacing:0.4px">10</text>
<text x="57.9" y="459.2" class="yl" style="letter-spacing:0.4px">5</text>
<text x="57.9" y="484.2" class="yl" style="letter-spacing:0.4px">0</text>
<text x="115.5" y="495" class="xl">Jul 10 16:00</text>
<text x="207.5" y="495" class="xl">Jul 11 00:00</text>
<text x="298.5" y="495" class="xl">Jul 11 08:00</text>
<text x="389.5" y="495" class="xl">Jul 11 16:00</text>
<text x="480.5" y="495" class="xl">Jul 12 00:00</text>
<text x="571.5" y="495" class="xl">Jul 12 08:00</text>
<text x="662.5" y="495" class="xl">Jul 12 16:00</text>
<text x="753.5" y="495" class="xl">Jul 13 00:00</text>
<text x="844.5" y="495" class="xl">Jul 13 08:00</text>
<text x="74.0" y="601.2" class="yl" style="letter-spacing:0.4px">2,300</text>
<text x="74.0" y="631.2" class="yl" style="letter-spacing:0.4px">2,200</text>
<text x="74.0" y="660.2" class="yl" style="letter-spacing:0.4px">2,100</text>
<text x="74.0" y="689.2" class="yl" style="letter-spacing:0.4px">2,000</text>
<text x="74.0" y="718.2" class="yl" style="letter-spacing:0.4px">1,900</text>
<text x="74.0" y="748.2" class="yl" style="letter-spacing:0.4px">1,800</text>
<text x="120.5" y="759" class="xl">Jul 10 16:00</text>
<text x="211.5" y="759" class="xl">Jul 11 00:00</text>
<text x="301.5" y="759" class="xl">Jul 11 08:00</text>
<text x="392.5" y="759" class="xl">Jul 11 16:00</text>
<text x="482.5" y="759" class="xl">Jul 12 00:00</text>
<text x="573.5" y="759" class="xl">Jul 12 08:00</text>
<text x="664.5" y="759" class="xl">Jul 12 16:00</text>
<text x="754.5" y="759" class="xl">Jul 13 00:00</text>
<text x="845.5" y="759" class="xl">Jul 13 08:00</text>
</svg>
</body></html>
